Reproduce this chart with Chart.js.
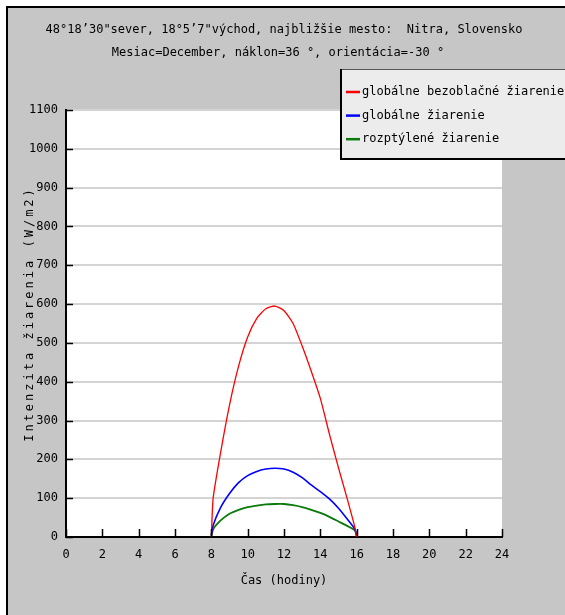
<!DOCTYPE html>
<html lang="sk">
<head>
<meta charset="UTF-8">
<title>Intenzita žiarenia - Nitra, December</title>
<script src="https://cdn.jsdelivr.net/npm/chart.js"></script>
<style>
  html, body { margin: 0; padding: 0; background: #fff; }
  canvas { display: block; }
</style>
</head>
<body>
<canvas id="radChart" width="565" height="615"></canvas>
<script>
// hodiny a hodnoty (W/m2) odčítané z grafu
const hours      = [8, 8.1, 8.5, 9, 9.5, 10, 10.5, 11, 11.5, 12, 12.5, 13, 13.5, 14, 14.5, 15, 15.5, 15.9, 16];
const clearSky   = [0, 100, 215, 340, 440, 515, 563, 588, 595, 583, 550, 492, 427, 357, 265, 178, 95, 25, 0];
const globalRad  = [5, 30, 75, 112, 140, 158, 169, 175, 177, 175, 167, 153, 134, 117, 98, 74, 45, 20, 3];
const diffuseRad = [0, 20, 42, 60, 70, 77, 81, 84, 85, 85, 82, 77, 70, 62, 52, 40, 28, 17, 3];

const xTicks = [0, 2, 4, 6, 8, 10, 12, 14, 16, 18, 20, 22, 24];
const yTicks = [0, 100, 200, 300, 400, 500, 600, 700, 800, 900, 1000, 1100];

const seriesNames  = ['globálne bezoblačné žiarenie', 'globálne žiarenie', 'rozptýlené žiarenie'];
const seriesColors = ['#ff0000', '#0000ff', '#0a7a0a'];
const titleLines = [
  '48°18’30"sever, 18°5’7"východ, najbližšie mesto:  Nitra, Slovensko',
  'Mesiac=December, náklon=36 °, orientácia=-30 °'
];
const yTitle = 'Intenzita žiarenia (W/m2)';
const xTitle = 'Čas (hodiny)';

const FONT = "'DejaVu Sans Mono', monospace";

function pts(vals) {
  return hours.map((h, i) => ({ x: h, y: vals[i] }));
}

// pozadie, rámik, nadpis, legenda a tiky dovnútra
const framePlugin = {
  id: 'frame',
  beforeDraw(chart) {
    const { ctx, width, height, chartArea: a } = chart;
    ctx.save();
    ctx.fillStyle = '#fff';
    ctx.fillRect(0, 0, width, height);
    ctx.fillStyle = '#c6c6c6';
    ctx.fillRect(7, 7, width - 7, height - 7);
    ctx.fillStyle = '#000';
    ctx.fillRect(6, 6, width - 6, 2);
    ctx.fillRect(6, 6, 2, height - 6);
    ctx.fillStyle = '#fff';
    ctx.fillRect(a.left, a.top, a.right - a.left, a.bottom - a.top);
    ctx.restore();
  },
  afterDraw(chart) {
    const { ctx, chartArea: a, scales } = chart;
    ctx.save();
    // tiky
    ctx.strokeStyle = '#000';
    ctx.lineWidth = 1.5;
    ctx.beginPath();
    xTicks.forEach(v => {
      const px = Math.round(scales.x.getPixelForValue(v)) + 0.5;
      ctx.moveTo(px, a.bottom);
      ctx.lineTo(px, a.bottom - 8);
    });
    yTicks.forEach(v => {
      const py = Math.round(scales.y.getPixelForValue(v)) + 0.5;
      ctx.moveTo(a.left, py);
      ctx.lineTo(a.left + 7, py);
    });
    ctx.stroke();

    // nadpis
    ctx.fillStyle = '#000';
    ctx.font = '12px ' + FONT;
    ctx.textAlign = 'center';
    ctx.textBaseline = 'middle';
    ctx.fillText(titleLines[0], 284, 30);
    ctx.fillText(titleLines[1], 278, 53);

    // popis osi y (rozostrené písmo)
    ctx.save();
    ctx.translate(30, 314);
    ctx.rotate(-Math.PI / 2);
    ctx.letterSpacing = '3px';
    ctx.fillText(yTitle, 0, 0);
    ctx.restore();

    // legenda
    const lx = 340, ly = 69, lw = 240, lh = 89;
    ctx.fillStyle = '#ececec';
    ctx.fillRect(lx, ly, lw, lh);
    ctx.strokeStyle = '#555';
    ctx.lineWidth = 1;
    ctx.strokeRect(lx + 0.5, ly + 0.5, lw, lh);
    ctx.fillStyle = '#000';
    ctx.fillRect(lx, ly, 2, lh + 2);
    ctx.fillRect(lx, ly + lh, lw, 2);
    ctx.textAlign = 'left';
    chart.data.datasets.forEach((ds, i) => {
      const y = 92 + i * 23.6;
      ctx.strokeStyle = ds.borderColor;
      ctx.lineWidth = 2.5;
      ctx.beginPath();
      ctx.moveTo(346, y);
      ctx.lineTo(360, y);
      ctx.stroke();
      ctx.fillStyle = '#000';
      ctx.fillText(ds.label, 362, y);
    });
    ctx.restore();
  }
};

new Chart(document.getElementById('radChart'), {
  type: 'line',
  data: {
    datasets: [
      { label: seriesNames[0], data: pts(clearSky), borderColor: seriesColors[0], borderWidth: 1.3 },
      { label: seriesNames[1], data: pts(globalRad), borderColor: seriesColors[1], borderWidth: 1.6 },
      { label: seriesNames[2], data: pts(diffuseRad), borderColor: seriesColors[2], borderWidth: 1.8 }
    ]
  },
  options: {
    responsive: false,
    animation: false,
    devicePixelRatio: 1,
    layout: { padding: { top: 110, right: 63, left: 0, bottom: 0 } },
    elements: {
      point: { radius: 0 },
      line: { tension: 0.2, fill: false }
    },
    plugins: {
      legend: { display: false },
      title: { display: false },
      tooltip: { enabled: false }
    },
    scales: {
      x: {
        type: 'linear',
        min: 0,
        max: 24,
        afterBuildTicks: s => { s.ticks = xTicks.map(v => ({ value: v })); },
        afterFit: s => { s.height = 78; },
        grid: { display: false, drawTicks: false },
        border: { display: true, color: '#000', width: 2 },
        ticks: { color: '#000', padding: 11, font: { family: FONT, size: 12 }, callback: v => String(v) },
        title: {
          display: true,
          text: xTitle,
          color: '#000',
          font: { family: FONT, size: 12 },
          padding: { top: 0, bottom: 27 }
        }
      },
      y: {
        min: 0,
        max: 1100,
        afterBuildTicks: s => { s.ticks = yTicks.map(v => ({ value: v })); },
        afterFit: s => { s.width = 66; },
        grid: { color: '#d4d4d4', lineWidth: 2, drawTicks: false },
        border: { display: true, color: '#000', width: 2 },
        ticks: { color: '#000', padding: 8, font: { family: FONT, size: 12 }, callback: v => String(v) }
      }
    }
  },
  plugins: [framePlugin]
});
</script>
</body>
</html>
